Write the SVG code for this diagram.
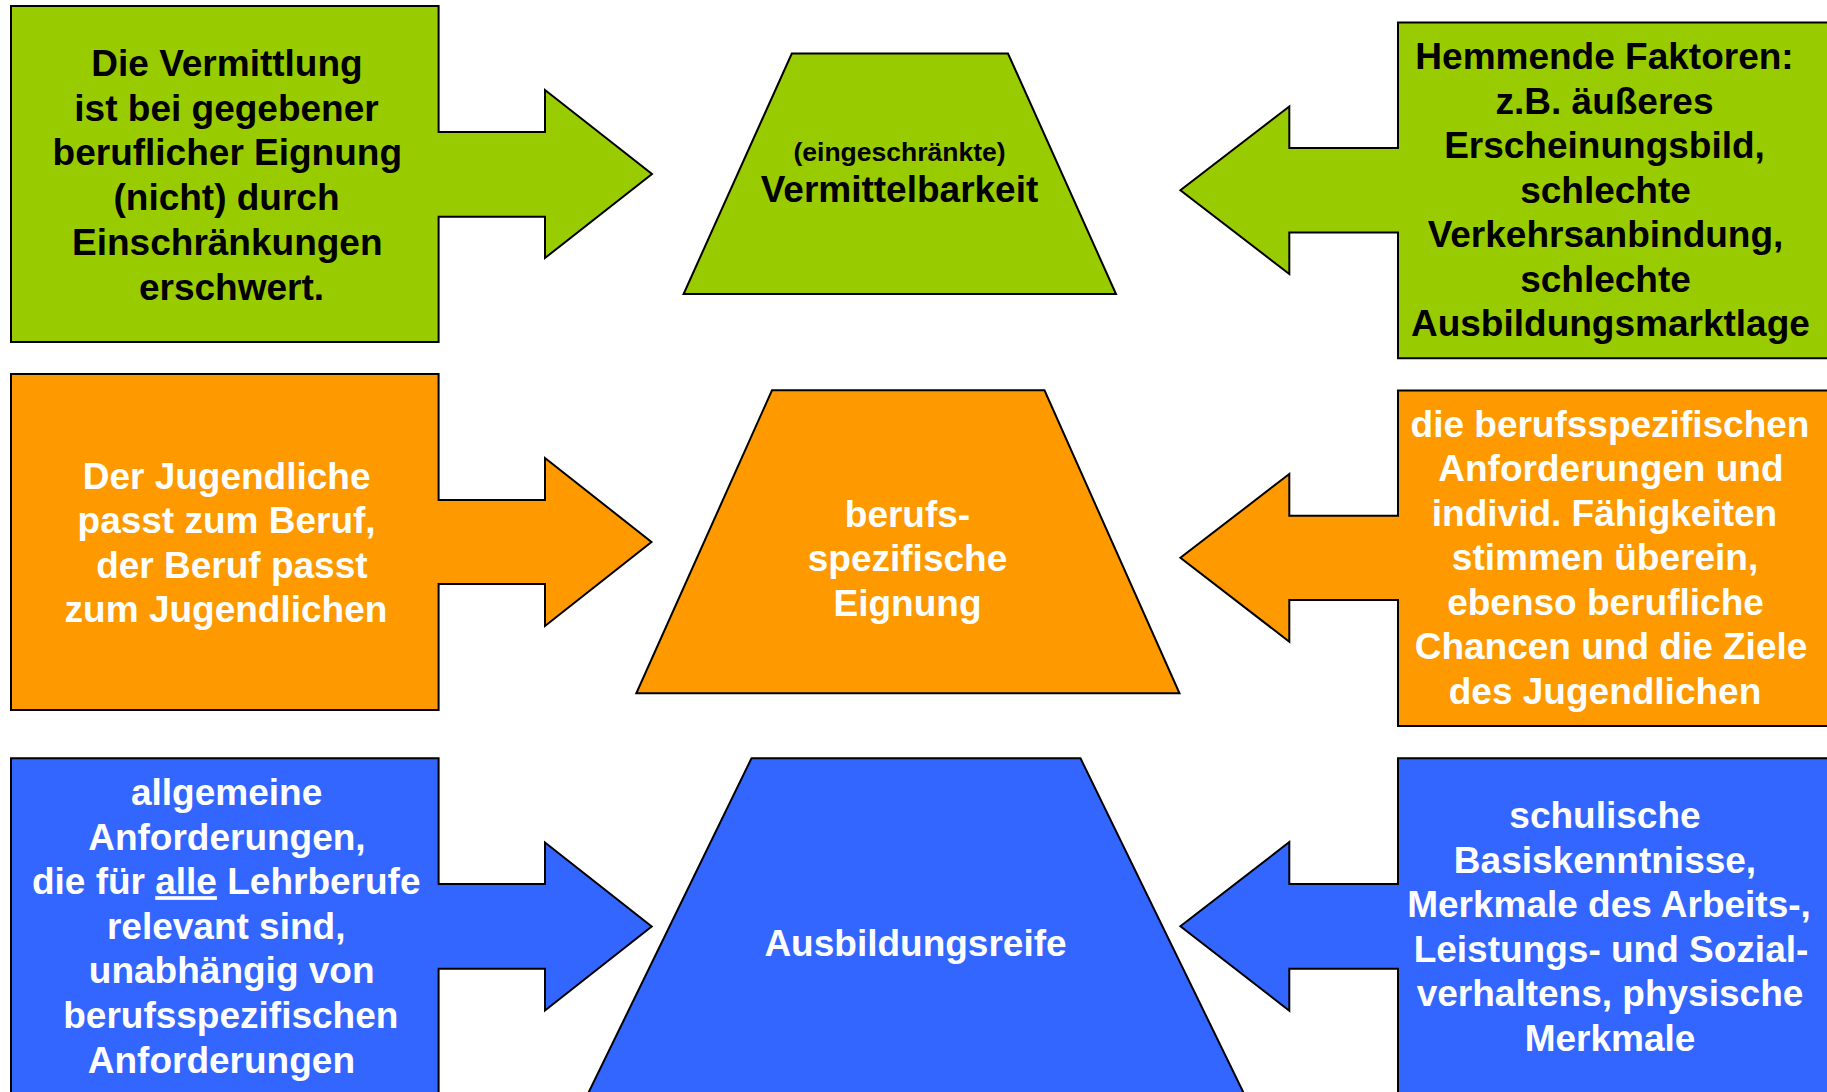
<svg xmlns="http://www.w3.org/2000/svg" width="1827" height="1092" viewBox="0 0 1827 1092">
<style>
  .shape { stroke: #000; stroke-width: 2; stroke-linejoin: miter; }
  .g { fill: #99CC00; }
  .o { fill: #FF9900; }
  .b { fill: #3366FF; }
  text { font-family: "Liberation Sans", Arial, sans-serif; font-weight: bold; font-size: 37px; text-anchor: middle; }
  .dk { fill: #000; }
  .wt { fill: #fff; }
  .sm { font-size: 26.5px; }
</style>
<rect x="0" y="0" width="1827" height="1092" fill="#fff"/>

<g id="callout-left-green">
  <polygon class="shape g" points="11,6 438.6,6 438.6,132 545,132 545,90 652,174 545,258 545,216.7 438.6,216.7 438.6,342 11,342"/>
  <text class="dk" x="227" y="76">Die Vermittlung</text>
  <text class="dk" x="226.5" y="120.7">ist bei gegebener</text>
  <text class="dk" x="227.3" y="165.4">beruflicher Eignung</text>
  <text class="dk" x="226.5" y="210.1">(nicht) durch</text>
  <text class="dk" x="227.3" y="254.8">Einschränkungen</text>
  <text class="dk" x="231.5" y="299.5">erschwert.</text>
</g>

<g id="trapezoid-vermittelbarkeit">
  <polygon class="shape g" points="791.8,53.5 1008,53.5 1116,294 683.6,294"/>
  <text class="dk sm" x="899.5" y="161">(eingeschränkte)</text>
  <text class="dk" x="899.5" y="202">Vermittelbarkeit</text>
</g>

<g id="callout-right-green">
  <polygon class="shape g" points="1840,22.5 1398,22.5 1398,148 1289.3,148 1289.3,106.5 1180.4,190.3 1289.3,274 1289.3,232.5 1398,232.5 1398,358.3 1840,358.3"/>
  <text class="dk" x="1604.5" y="69.3">Hemmende Faktoren:</text>
  <text class="dk" x="1604.5" y="113.8">z.B. äußeres</text>
  <text class="dk" x="1604.5" y="158.3">Erscheinungsbild,</text>
  <text class="dk" x="1605.5" y="202.8">schlechte</text>
  <text class="dk" x="1605.5" y="247.3">Verkehrsanbindung,</text>
  <text class="dk" x="1605.5" y="291.8">schlechte</text>
  <text class="dk" x="1610.4" y="336.3">Ausbildungsmarktlage</text>
</g>

<g id="callout-left-orange">
  <polygon class="shape o" points="11,374 438.6,374 438.6,500 545,500 545,458 651.5,542 545,626 545,584 438.6,584 438.6,710 11,710"/>
  <text class="wt" x="226.6" y="488.5">Der Jugendliche</text>
  <text class="wt" x="226.6" y="533">passt zum Beruf,</text>
  <text class="wt" x="231.9" y="577.5">der Beruf passt</text>
  <text class="wt" x="226" y="622">zum Jugendlichen</text>
</g>

<g id="trapezoid-eignung">
  <polygon class="shape o" points="772,390.3 1044.5,390.3 1179.5,693.3 636.3,693.3"/>
  <text class="wt" x="907.5" y="526.7">berufs-</text>
  <text class="wt" x="907.5" y="571.2">spezifische</text>
  <text class="wt" x="907.5" y="615.7">Eignung</text>
</g>

<g id="callout-right-orange">
  <polygon class="shape o" points="1840,390.5 1398,390.5 1398,515.7 1289.3,515.7 1289.3,474 1180.4,557.8 1289.3,641.7 1289.3,600 1398,600 1398,726 1840,726"/>
  <text class="wt" x="1610" y="436.7">die berufsspezifischen</text>
  <text class="wt" x="1610.9" y="481.2">Anforderungen und</text>
  <text class="wt" x="1604.5" y="525.7">individ. Fähigkeiten</text>
  <text class="wt" x="1605" y="570.2">stimmen überein,</text>
  <text class="wt" x="1605.5" y="614.7">ebenso berufliche</text>
  <text class="wt" x="1611" y="659.2">Chancen und die Ziele</text>
  <text class="wt" x="1605" y="703.7">des Jugendlichen</text>
</g>

<g id="callout-left-blue">
  <polygon class="shape b" points="11,1100 11,758.3 438.6,758.3 438.6,884 545,884 545,842.5 651.7,926.5 545,1010.5 545,968.7 438.6,968.7 438.6,1100"/>
  <text class="wt" x="226.6" y="805">allgemeine</text>
  <text class="wt" x="226.9" y="849.6">Anforderungen,</text>
  <text class="wt" x="226.2" y="894.2">die für <tspan text-decoration="underline">alle</tspan> Lehrberufe</text>
  <text class="wt" x="226.2" y="938.8">relevant sind,</text>
  <text class="wt" x="231.7" y="983.4">unabhängig von</text>
  <text class="wt" x="230.8" y="1028">berufsspezifischen</text>
  <text class="wt" x="221.4" y="1072.6">Anforderungen</text>
</g>

<g id="trapezoid-ausbildungsreife">
  <polygon class="shape b" points="751.5,758.3 1080.5,758.3 1247.1,1100 584.9,1100"/>
  <text class="wt" x="915.5" y="956">Ausbildungsreife</text>
</g>

<g id="callout-right-blue">
  <polygon class="shape b" points="1840,758.3 1398,758.3 1398,884 1289.3,884 1289.3,842 1180.4,926.3 1289.3,1010.7 1289.3,968.7 1398,968.7 1398,1100 1840,1100"/>
  <text class="wt" x="1605" y="828.3">schulische</text>
  <text class="wt" x="1605" y="872.8">Basiskenntnisse,</text>
  <text class="wt" x="1609" y="917.3">Merkmale des Arbeits-,</text>
  <text class="wt" x="1611" y="961.8">Leistungs- und Sozial-</text>
  <text class="wt" x="1610" y="1006.3">verhaltens, physische</text>
  <text class="wt" x="1610" y="1050.8">Merkmale</text>
</g>

<g id="connectors"></g>
</svg>
